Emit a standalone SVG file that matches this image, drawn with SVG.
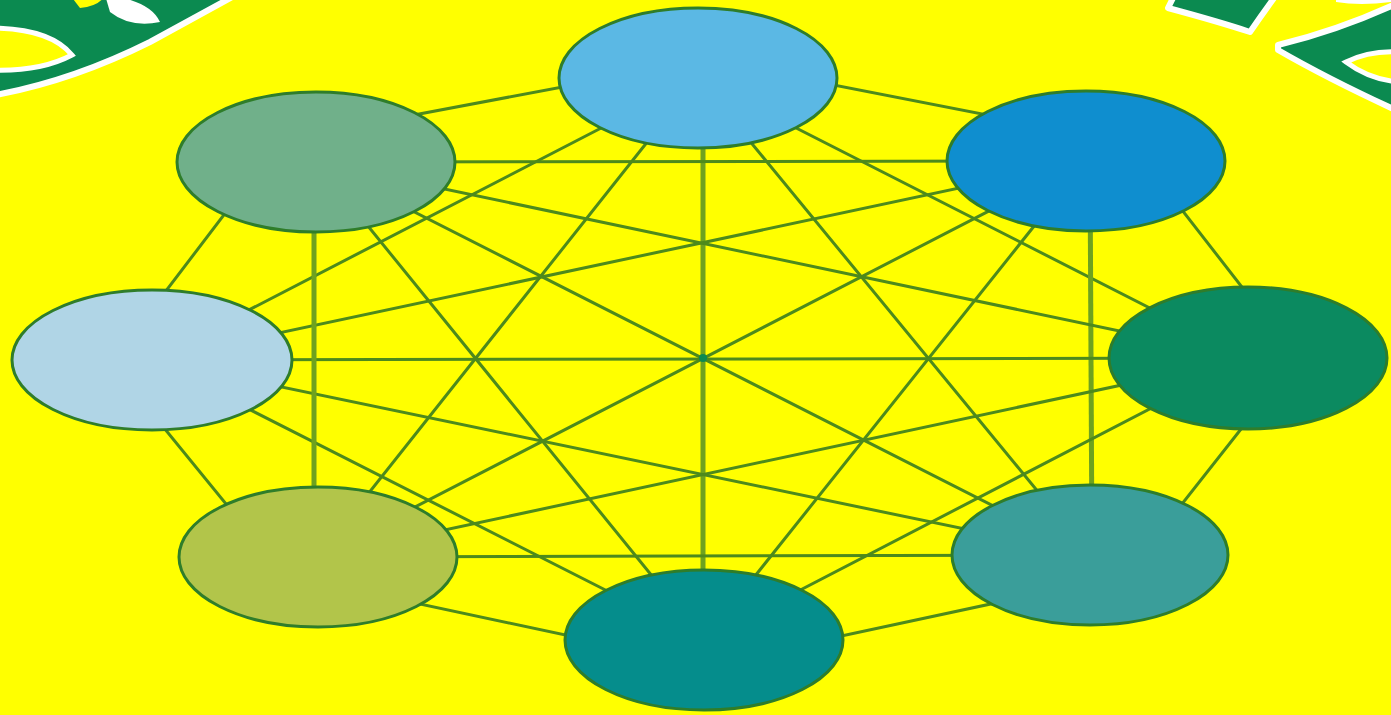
<svg xmlns="http://www.w3.org/2000/svg" width="1391" height="715" viewBox="0 0 1391 715">
<style>
.edge{stroke:#4d8a1c;stroke-width:3;fill:none;stroke-linecap:round}
.thick{stroke:#6ea21f;stroke-width:5;fill:none}
.node{stroke:#2f7d2a;stroke-width:3}
.deco{fill:#0b8a50;stroke:#ffffff;stroke-width:6;stroke-linejoin:round}
.lens{fill:#ffff00;stroke:#ffffff;stroke-width:5}
</style>
<rect width="1391" height="715" fill="#ffff00"/>
<g id="decor-top-left">
<path class="deco" d="M-10,10 L-10,96 Q70,82 150,42 L245,-10 L-10,-10 Z"/>
<path class="lens" d="M-10,28 Q50,28 72,55 Q40,72 -10,70 Z"/>
<path d="M105,-5 Q150,0 160,22 Q130,28 110,12 Z" fill="#ffffff"/>
<path d="M70,-5 L105,-5 Q100,6 80,8 Z" fill="#ffff00"/>
</g>
<g id="decor-top-right">
<path class="deco" d="M1177,-10 L1280,-10 Q1265,10 1250,32 Q1220,22 1168,8 Z"/>
<path class="deco" d="M1278,45 Q1340,30 1400,2 L1400,112 Q1330,80 1278,50 Z"/>
<path class="lens" d="M1346,62 Q1370,50 1400,52 L1400,82 Q1370,80 1346,62 Z"/>
<path d="M1336,-5 L1391,-5 L1391,2 Q1360,6 1336,2 Z" fill="#ffffff"/>
</g>
<g id="connectors">
<polygon class="edge" points="706,60 1130,143 1297,358 1126,575 706,665 284,575 111,363 281,140"/>
<line class="edge" x1="698" y1="78" x2="1248" y2="358"/>
<line class="edge" x1="698" y1="78" x2="1090" y2="555"/>
<line class="thick" x1="703" y1="78" x2="703" y2="640"/>
<line class="edge" x1="698" y1="78" x2="318" y2="557"/>
<line class="edge" x1="698" y1="78" x2="152" y2="360"/>
<line class="thick" x1="1090" y1="161" x2="1092" y2="555"/>
<line class="edge" x1="1086" y1="161" x2="704" y2="640"/>
<line class="edge" x1="1086" y1="161" x2="318" y2="557"/>
<line class="edge" x1="1086" y1="161" x2="152" y2="360"/>
<line class="edge" x1="1086" y1="161" x2="316" y2="162"/>
<line class="edge" x1="1248" y1="358" x2="704" y2="640"/>
<line class="edge" x1="1248" y1="358" x2="318" y2="557"/>
<line class="edge" x1="1248" y1="358" x2="152" y2="360"/>
<line class="edge" x1="1248" y1="358" x2="316" y2="162"/>
<line class="edge" x1="1090" y1="555" x2="318" y2="557"/>
<line class="edge" x1="1090" y1="555" x2="152" y2="360"/>
<line class="edge" x1="1090" y1="555" x2="316" y2="162"/>
<line class="edge" x1="704" y1="640" x2="152" y2="360"/>
<line class="edge" x1="704" y1="640" x2="316" y2="162"/>
<line class="thick" x1="314" y1="162" x2="314" y2="557"/>
<circle cx="703" cy="358" r="4" fill="#0b8a50"/>
</g>
<g id="node-top"><ellipse class="node" cx="698" cy="78" rx="139" ry="70" fill="#5bb8e4"/></g>
<g id="node-top-right"><ellipse class="node" cx="1086" cy="161" rx="139" ry="70" fill="#0f8ecf"/></g>
<g id="node-right"><ellipse class="node" cx="1248" cy="358" rx="139" ry="71" fill="#0b8a60"/></g>
<g id="node-bottom-right"><ellipse class="node" cx="1090" cy="555" rx="138" ry="70" fill="#3a9e9a"/></g>
<g id="node-bottom"><ellipse class="node" cx="704" cy="640" rx="139" ry="70" fill="#058d8c"/></g>
<g id="node-bottom-left"><ellipse class="node" cx="318" cy="557" rx="139" ry="70" fill="#b2c54a"/></g>
<g id="node-left"><ellipse class="node" cx="152" cy="360" rx="140" ry="70" fill="#b0d5e6"/></g>
<g id="node-top-left"><ellipse class="node" cx="316" cy="162" rx="139" ry="70" fill="#70b08a"/></g>
</svg>
